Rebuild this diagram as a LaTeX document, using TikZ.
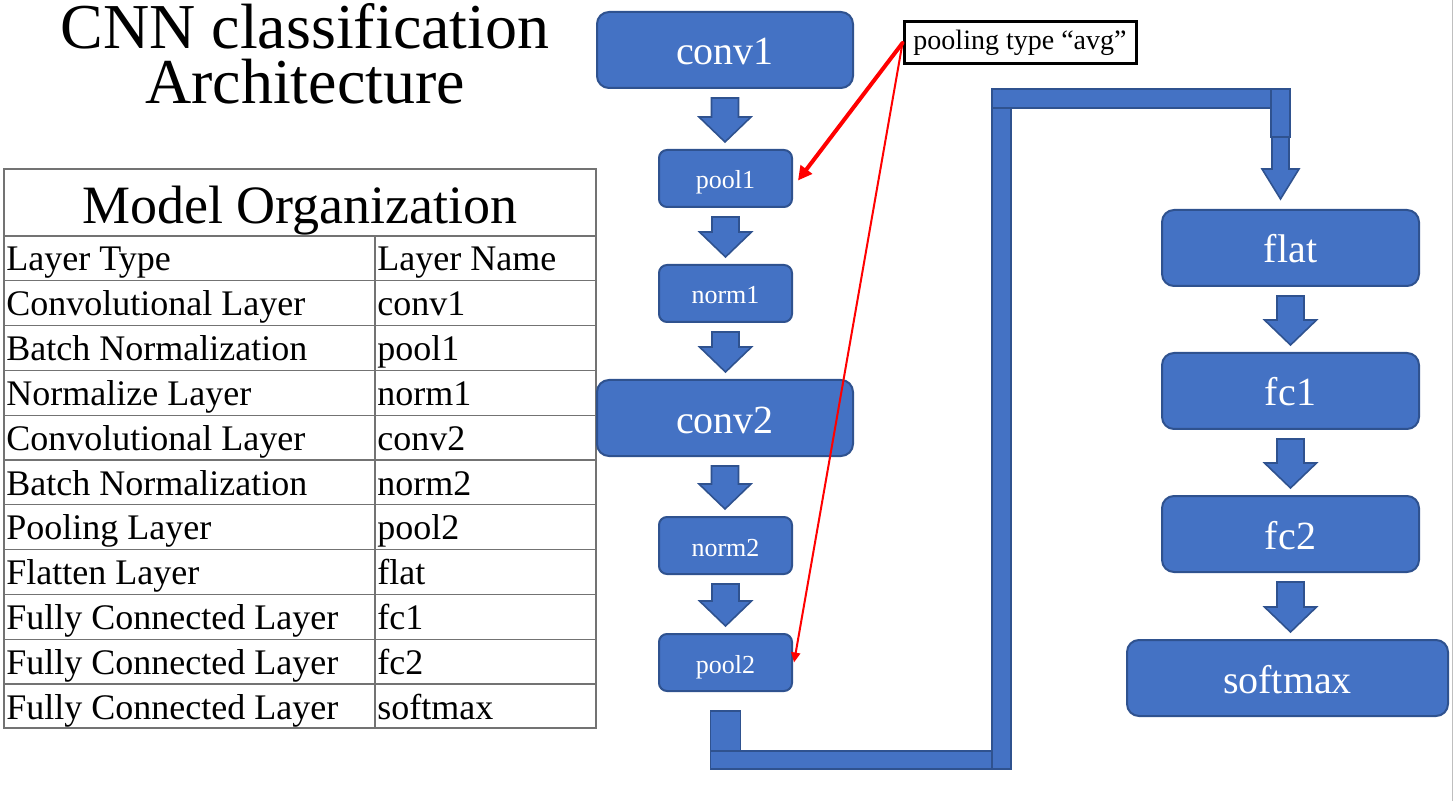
\documentclass[tikz,border=0pt]{standalone}
\usepackage{fontspec}
\setmainfont{Liberation Serif}
\usepackage{tikz}
\usetikzlibrary{arrows.meta, calc}

\definecolor{layerblue}{HTML}{4472C4}
\definecolor{layeredge}{HTML}{2F528F}

% block arrow from the bottom of #1 to the top of #2
\newcommand{\downblock}[2]{%
  \coordinate (t) at ($(#1.south)+(0,9)$);
  \coordinate (tip) at ($(t |- #2.north)+(0,-7)$);
  \filldraw[blockarrow] ($(t)+(-13.5,0)$) -- ($(t)+(13.5,0)$) -- ($(tip)+(13.5,-25)$)
    -- ($(tip)+(26,-25)$) -- (tip) -- ($(tip)+(-26,-25)$) -- ($(tip)+(-13.5,-25)$) -- cycle;
}

\begin{document}
\begin{tikzpicture}[x=0.5pt,y=-0.5pt,
    layer/.style={draw=layeredge, fill=layerblue, line width=1pt, text=white, inner sep=0pt},
    bigbox/.style={layer, rounded corners=6pt, minimum width=128pt, minimum height=38pt, text height=15pt, text depth=0pt, font=\fontsize{20}{24}\selectfont},
    smallbox/.style={layer, rounded corners=4pt, minimum width=66.5pt, minimum height=28.5pt, text height=10.5pt, text depth=0pt, font=\fontsize{13}{16}\selectfont},
    blockarrow/.style={draw=layeredge, fill=layerblue, line width=0.8pt},
    tableline/.style={draw=black!55, line width=0.6pt},
    cell/.style={inner sep=0pt, font=\fontsize{18}{22}\selectfont},
    redpointer/.style={draw=red, line cap=round}]
    \useasboundingbox (0,0) rectangle (1454,801);
    \draw[black!25] (1452,0) -- (1452,801);

    % title
    \node[anchor=base, text depth=0pt, font=\fontsize{32}{32}\selectfont] (title1) at (305,49) {CNN classification};
    \node[anchor=base, font=\fontsize{32}{32}\selectfont] (title2) at (305,104) {Architecture};

    % table
    \draw[tableline] (4,169) rectangle (596,728);
    \draw[tableline] (4,236) -- (596,236);
    \foreach \i in {1,...,10}
        \draw[tableline] (4,{236+44.8*\i}) -- (596,{236+44.8*\i});
    \draw[tableline] (375,236) -- (375,728);
    \node[anchor=base, font=\fontsize{27}{30}\selectfont] (tabtitle) at (300,224) {Model Organization};
    \foreach \type/\name [count=\i from 0] in {Layer Type/Layer Name, Convolutional Layer/conv1,
        Batch Normalization/pool1, Normalize Layer/norm1, Convolutional Layer/conv2,
        Batch Normalization/norm2, Pooling Layer/pool2, Flatten Layer/flat,
        Fully Connected Layer/fc1, Fully Connected Layer/fc2, Fully Connected Layer/softmax} {
        \node[cell, anchor=base west] (type\i) at (6,{236+44.8*\i+35}) {\type};
        \node[cell, anchor=base west] (name\i) at (377,{236+44.8*\i+35}) {\name};
    }

    % left column
    \node[bigbox] (conv1) at (725,50) {conv1};
    \node[smallbox] (pool1) at (725.5,178.5) {pool1};
    \node[smallbox] (norm1) at (725.5,293.5) {norm1};
    \node[bigbox] (conv2) at (725,418) {conv2};
    \node[smallbox] (norm2) at (725.5,545.5) {norm2};
    \node[smallbox] (pool2) at (725.5,662.5) {pool2};

    % right column
    \node[bigbox, minimum width=128.5pt] (flat) at (1290.5,248) {flat};
    \node[bigbox, minimum width=128.5pt] (fc1) at (1290.5,391) {fc1};
    \node[bigbox, minimum width=128.5pt] (fc2) at (1290.5,534) {fc2};
    \node[bigbox, minimum width=160.5pt] (softmax) at (1287.5,678) {softmax};

    \downblock{conv1}{pool1}
    \downblock{pool1}{norm1}
    \downblock{norm1}{conv2}
    \downblock{conv2}{norm2}
    \downblock{norm2}{pool2}
    \downblock{flat}{fc1}
    \downblock{fc1}{fc2}
    \downblock{fc2}{softmax}

    % elbow from pool2 to flat
    \coordinate (lowturn) at (1001.5,759.5);
    \coordinate (highturn) at (1001.5,98.5);
    \coordinate (dropin) at ($(highturn -| flat)+(-10,0)$);
    \filldraw[blockarrow] ($(lowturn)+(-9.5,9.5)$) rectangle ($(highturn)+(9.5,9.5)$);
    \filldraw[blockarrow] ($(pool2.south)+(-15,59)$) rectangle ($(lowturn)+(-9.5,9.5)$);
    \filldraw[blockarrow] ($(pool2.south)+(-15,19)$) rectangle ($(pool2.south)+(15,59)$);
    \filldraw[blockarrow] ($(highturn)+(-9.5,-9.5)$) rectangle ($(dropin)+(9.5,9.5)$);
    \filldraw[blockarrow] ($(dropin)+(-9.5,-9.5)$) rectangle ($(dropin)+(9.5,38.5)$);
    \filldraw[blockarrow] ($(dropin)+(-8.5,38.5)$) -- ($(dropin)+(8.5,38.5)$) -- ($(dropin)+(8.5,70.5)$)
        -- ($(dropin)+(18.5,70.5)$) -- ($(flat.north -| dropin)+(0,-10)$) -- ($(dropin)+(-18.5,70.5)$)
        -- ($(dropin)+(-8.5,70.5)$) -- cycle;

    % note
    \node[draw=black, line width=1.5pt, minimum width=116pt, minimum height=21pt, inner sep=0pt,
        font=\fontsize{14}{16}\selectfont] (note) at (1020,43) {pooling type “avg”};
    \draw[redpointer, line width=2pt, -{Triangle[length=7pt,width=7pt]}] (note.west) -- ($(pool1.east)+(5,2)$);
    \draw[redpointer, line width=1pt, -{Triangle[length=5pt,width=4.5pt]}] (note.west) -- ($(pool2.east)+(1,0)$);
\end{tikzpicture}
\end{document}
